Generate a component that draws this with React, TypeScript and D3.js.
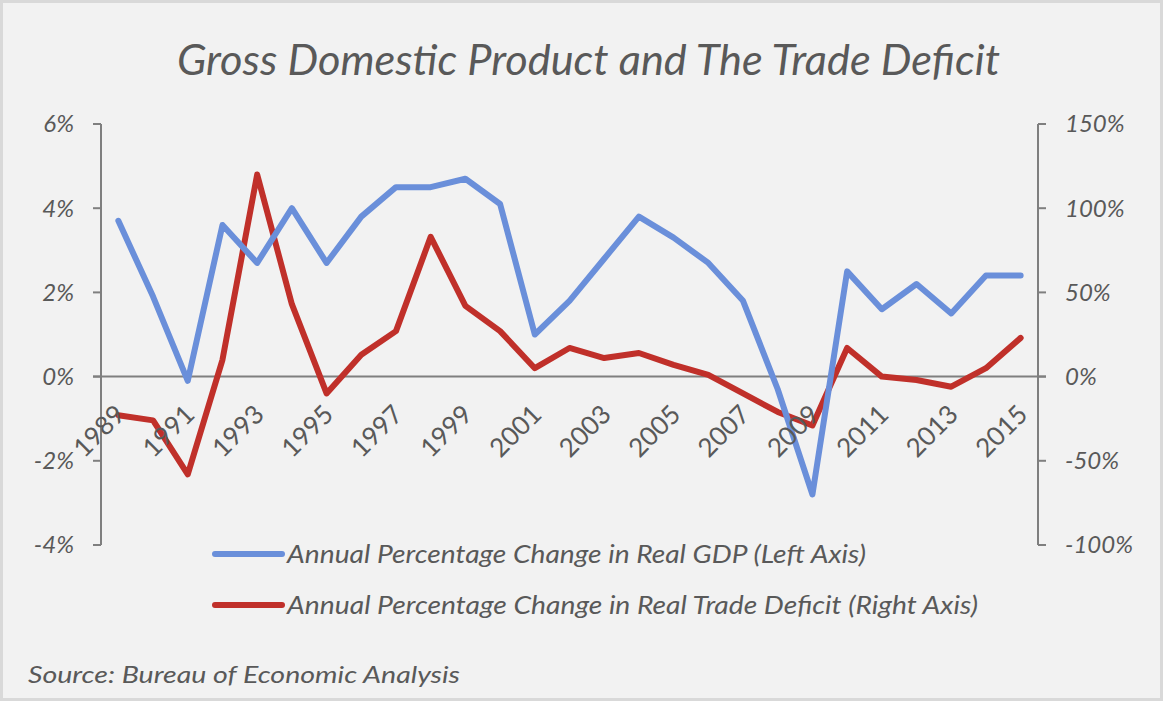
import React from "react";
import * as d3 from "d3";

const years = d3.range(1989, 2016).map(String);
const gdp = [3.7, 1.9, -0.1, 3.6, 2.7, 4.0, 2.7, 3.8, 4.5, 4.5, 4.7, 4.1, 1.0, 1.8, 2.8, 3.8, 3.3, 2.7, 1.8, -0.3, -2.8, 2.5, 1.6, 2.2, 1.5, 2.4, 2.4];
const deficit = [-23, -26, -58, 10, 120, 43, -10, 13, 27, 83, 42, 27, 5, 17, 11, 14, 7, 1, -10, -21, -29, 17, 0, -2, -6, 5, 23];
const leftTicks = [-4, -2, 0, 2, 4, 6];
const rightTicks = [-100, -50, 0, 50, 100, 150];
const yearLabels = years.filter((_, i) => i % 2 === 0);

const W = 1163;
const H = 701;
const left = 101;
const right = 1038;
const top = 124;
const bottom = 545;
const font = "Lato, 'Open Sans', sans-serif";
const textColor = "#595959";
const axisColor = "#7f7f7f";
const blue = "#6a8fda";
const red = "#c0302a";

export default function App() {
  const x = d3.scalePoint().domain(years).range([left, right]).padding(0.5);
  const yL = d3.scaleLinear().domain([-4, 6]).range([bottom, top]);
  const yR = d3.scaleLinear().domain([-100, 150]).range([bottom, top]);

  const gdpLine = d3.line<number>().x((_, i) => x(years[i])!).y((d) => yL(d));
  const defLine = d3.line<number>().x((_, i) => x(years[i])!).y((d) => yR(d));

  return (
    <svg width={W} height={H} style={{ position: "absolute", left: 0, top: 0 }} fontFamily={font}>
      <rect x={1.5} y={1.5} width={W - 3} height={H - 3} fill="#f2f2f2" stroke="#d9d9d9" strokeWidth={3} />
      <text x={177} y={75} fontSize={42} fontStyle="italic" fill={textColor} textLength={823} lengthAdjust="spacingAndGlyphs">
        Gross Domestic Product and The Trade Deficit
      </text>

      {/* left axis */}
      <line x1={left} x2={left} y1={top} y2={bottom} stroke={axisColor} strokeWidth={2} />
      {leftTicks.map((t) => (
        <g key={t}>
          <line x1={left - 8} x2={left} y1={yL(t)} y2={yL(t)} stroke={axisColor} strokeWidth={2} />
          <text x={74} y={yL(t)} dy="0.35em" textAnchor="end" fontSize={24} fontStyle="italic" fill={textColor}>
            {t}%
          </text>
        </g>
      ))}

      {/* right axis */}
      <line x1={right} x2={right} y1={top} y2={bottom} stroke={axisColor} strokeWidth={2} />
      {rightTicks.map((t) => (
        <g key={t}>
          <line x1={right} x2={right + 8} y1={yR(t)} y2={yR(t)} stroke={axisColor} strokeWidth={2} />
          <text x={1065} y={yR(t)} dy="0.35em" fontSize={24} fontStyle="italic" fill={textColor}>
            {t}%
          </text>
        </g>
      ))}

      {/* zero line */}
      <line x1={left - 8} x2={right + 8} y1={yL(0)} y2={yL(0)} stroke={axisColor} strokeWidth={2} />

      <path d={defLine(deficit)!} fill="none" stroke={red} strokeWidth={6} strokeLinejoin="round" strokeLinecap="round" />
      <path d={gdpLine(gdp)!} fill="none" stroke={blue} strokeWidth={6} strokeLinejoin="round" strokeLinecap="round" />

      {/* year labels, drawn over the lines */}
      {yearLabels.map((yr) => (
        <text
          key={yr}
          transform={`translate(${x(yr)! + 2},${yL(0) + 33}) rotate(-45)`}
          textAnchor="end"
          dy="0.35em"
          fontSize={26}
          fill={textColor}
        >
          {yr}
        </text>
      ))}

      {/* legend */}
      <line x1={215} x2={282} y1={554} y2={554} stroke={blue} strokeWidth={6} strokeLinecap="round" />
      <text x={287} y={554} dy="0.35em" fontSize={25} fontStyle="italic" fill={textColor} textLength={579} lengthAdjust="spacingAndGlyphs">
        Annual Percentage Change in Real GDP (Left Axis)
      </text>
      <line x1={215} x2={282} y1={605} y2={605} stroke={red} strokeWidth={6} strokeLinecap="round" />
      <text x={287} y={605} dy="0.35em" fontSize={25} fontStyle="italic" fill={textColor} textLength={691} lengthAdjust="spacingAndGlyphs">
        Annual Percentage Change in Real Trade Deficit (Right Axis)
      </text>

      <text x={28} y={683} fontSize={24} fontStyle="italic" fill={textColor} textLength={432} lengthAdjust="spacingAndGlyphs">
        Source: Bureau of Economic Analysis
      </text>
    </svg>
  );
}
